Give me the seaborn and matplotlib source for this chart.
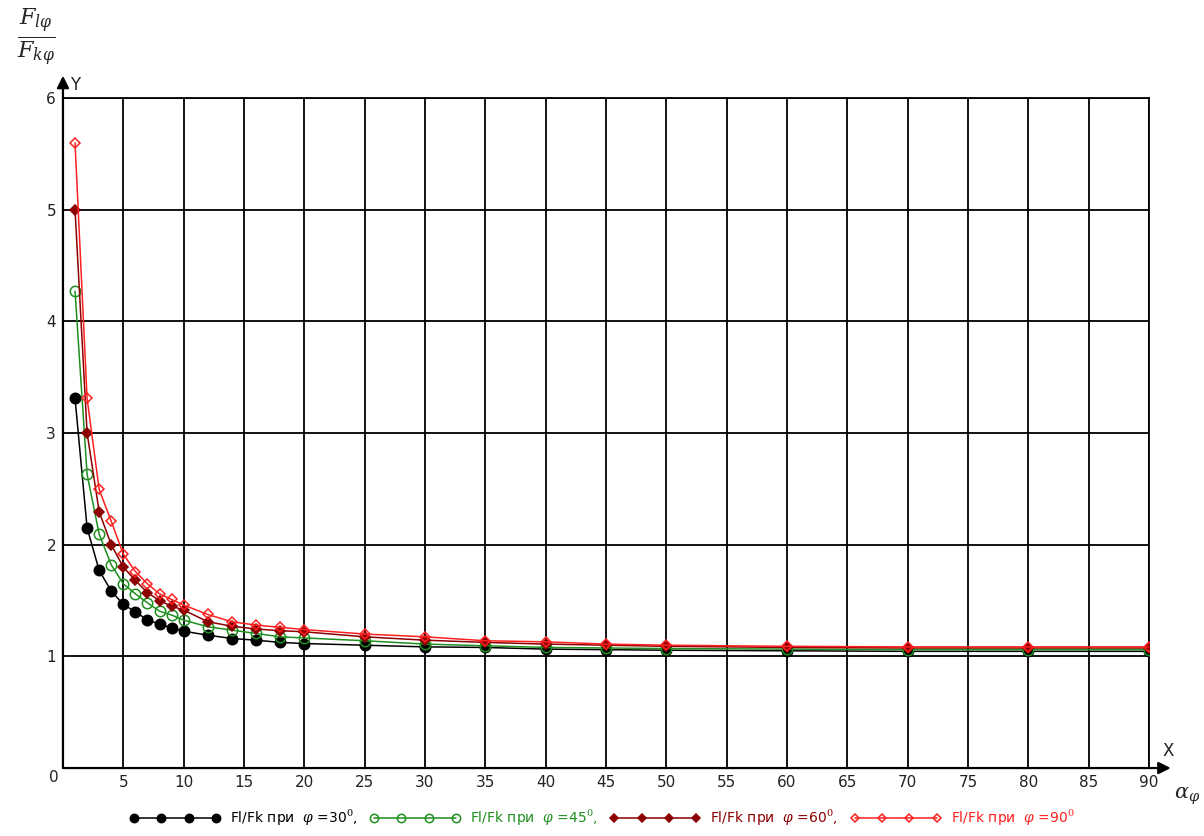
import numpy as np
import pandas as pd
import matplotlib.pyplot as plt
import seaborn as sns

# values
alpha = [1, 2, 3, 4, 5, 6, 7, 8, 9, 10, 12, 14, 16, 18, 20, 25, 30, 35, 40, 45, 50, 60, 70, 80, 90]
phi30 = [3.31, 2.15, 1.77, 1.585, 1.465, 1.40, 1.325, 1.29, 1.255, 1.225, 1.19, 1.16, 1.145, 1.125,
         1.115, 1.10, 1.085, 1.08, 1.065, 1.06, 1.055, 1.05, 1.045, 1.045, 1.045]
phi45 = [4.27, 2.63, 2.095, 1.82, 1.65, 1.56, 1.48, 1.405, 1.37, 1.325, 1.265, 1.235, 1.205, 1.175,
         1.165, 1.14, 1.11, 1.095, 1.08, 1.075, 1.07, 1.065, 1.06, 1.06, 1.06]
phi60 = [5.0, 3.0, 2.295, 2.0, 1.80, 1.68, 1.57, 1.50, 1.45, 1.415, 1.31, 1.27, 1.245, 1.23,
         1.22, 1.175, 1.145, 1.125, 1.11, 1.10, 1.09, 1.08, 1.075, 1.075, 1.075]
phi90 = [5.6, 3.31, 2.495, 2.21, 1.915, 1.76, 1.65, 1.56, 1.51, 1.46, 1.375, 1.31, 1.28, 1.26,
         1.24, 1.20, 1.175, 1.14, 1.13, 1.11, 1.10, 1.09, 1.085, 1.085, 1.085]
labels = ['Fl/Fk при  $\\varphi$ =30$^{0}$,', 'Fl/Fk при  $\\varphi$ =45$^{0}$,',
          'Fl/Fk при  $\\varphi$ =60$^{0}$,', 'Fl/Fk при  $\\varphi$ =90$^{0}$']

sns.set_style("white")
plt.rcParams['font.family'] = ['DejaVu Sans']
plt.rcParams['mathtext.fontset'] = 'dejavuserif'

fig = plt.figure(figsize=(12.04, 8.36), dpi=100)
ax = fig.add_axes([0.0523, 0.0813, 0.902, 0.8014])

# grid
for gx in range(5, 95, 5):
    ax.axvline(gx, color='black', lw=1.3, zorder=1)
for gy in range(1, 7):
    ax.axhline(gy, color='black', lw=1.3, zorder=1)

styles = [
    dict(color='black', marker='o', markersize=7.5, markerfacecolor='black', markeredgecolor='black'),
    dict(color='#1f8f1f', marker='o', markersize=7.5, markerfacecolor='none', markeredgecolor='#1f8f1f'),
    dict(color='#8b0000', marker='D', markersize=5.5, markerfacecolor='#8b0000', markeredgecolor='#8b0000'),
    dict(color='#ff2020', marker='D', markersize=5.5, markerfacecolor='none', markeredgecolor='#ff2020'),
]
series = [phi30, phi45, phi60, phi90]
for vals, lab, st in zip(series, labels, styles):
    sns.lineplot(x=alpha, y=vals, ax=ax, lw=1.1, markeredgewidth=1.1, label=lab, zorder=3, **st)
if ax.get_legend():
    ax.get_legend().remove()
handles = ax.get_lines()[-4:]

ax.set_xlim(0, 90)
ax.set_ylim(0, 6)
ax.set_xticks(range(5, 95, 5))
ax.set_yticks(range(1, 7))
ax.tick_params(axis='both', length=3, width=1.2, color='black', labelsize=11, labelcolor='#222222', pad=2)
for s in ax.spines.values():
    s.set_color('black')
    s.set_linewidth(1.3)
ax.spines['left'].set_visible(False)
ax.spines['bottom'].set_visible(False)

# axes with arrows
ax.annotate('', xy=(0, 6.2), xytext=(0, 0), annotation_clip=False,
            arrowprops=dict(arrowstyle='-|>', color='black', lw=1.6, mutation_scale=18, shrinkA=0, shrinkB=0))
ax.annotate('', xy=(91.8, 0), xytext=(0, 0), annotation_clip=False,
            arrowprops=dict(arrowstyle='-|>', color='black', lw=1.6, mutation_scale=18, shrinkA=0, shrinkB=0))
ax.text(0.6, 6.12, 'Y', fontsize=12, color='#222222', ha='left', va='center')
ax.text(91.1, 0.15, 'X', fontsize=12, color='#222222', ha='left', va='center')
ax.text(-0.4, -0.02, '0', fontsize=11, color='#222222', ha='right', va='top')
ax.text(92.1, -0.25, r'$\alpha_{\varphi}$', fontsize=15, ha='left', va='center')

fig.text(0.03, 0.955, r'$\frac{F_{l\varphi}}{F_{k\varphi}}$', fontsize=23, ha='center', va='center')

leg = fig.legend(handles=handles, labels=labels, loc='lower center', bbox_to_anchor=(0.5, -0.005),
                 ncol=4, frameon=False, handlelength=6.5, numpoints=4, fontsize=10,
                 columnspacing=0.9, handletextpad=0.7, markerscale=0.8)
for txt, st in zip(leg.get_texts(), styles):
    txt.set_color(st['color'])

plt.savefig('out.png', dpi=100)
